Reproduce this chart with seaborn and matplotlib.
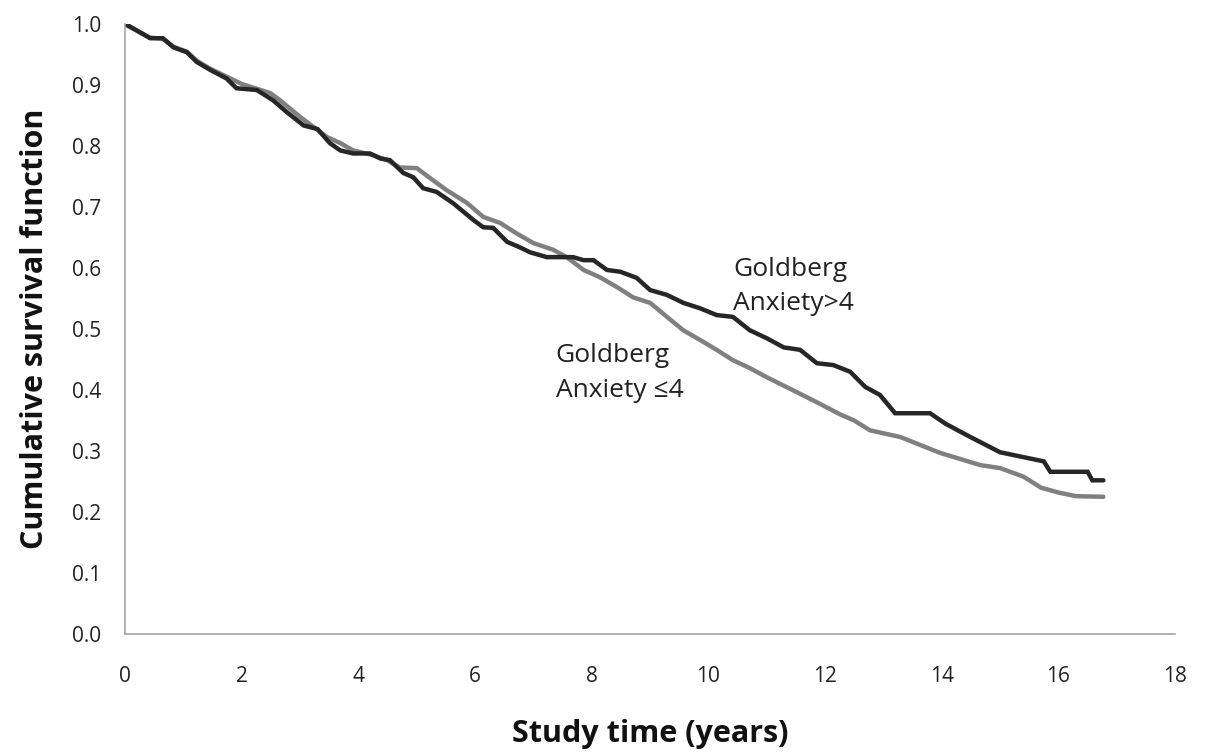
import matplotlib
matplotlib.use("Agg")
import matplotlib.pyplot as plt
import seaborn as sns
import pandas as pd

# Goldberg Anxiety > 4 (black)
t_high = [0.0, 0.05, 0.43, 0.65, 0.83, 1.06, 1.23, 1.46, 1.74, 1.91, 2.26, 2.54, 2.77, 3.06,
          3.3, 3.51, 3.69, 3.91, 4.2, 4.37, 4.54, 4.77, 4.94, 5.11, 5.34, 5.63, 5.97, 6.14,
          6.31, 6.55, 6.77, 6.94, 7.23, 7.68, 7.86, 8.03, 8.26, 8.49, 8.77, 9.0, 9.29, 9.57,
          9.86, 10.14, 10.42, 10.71, 11.0, 11.29, 11.57, 11.86, 12.14, 12.43, 12.69, 12.94,
          13.2, 13.8, 14.06, 14.49, 15.0, 15.6, 15.75, 15.86, 16.5, 16.58, 16.77]
s_high = [1.0, 0.998, 0.977, 0.977, 0.962, 0.954, 0.938, 0.925, 0.911, 0.895, 0.892, 0.875,
          0.856, 0.834, 0.828, 0.805, 0.793, 0.788, 0.788, 0.780, 0.777, 0.756, 0.749, 0.731,
          0.725, 0.706, 0.679, 0.667, 0.666, 0.643, 0.634, 0.626, 0.618, 0.618, 0.613, 0.613,
          0.597, 0.594, 0.584, 0.564, 0.556, 0.543, 0.534, 0.523, 0.520, 0.498, 0.485, 0.470,
          0.466, 0.444, 0.441, 0.430, 0.405, 0.392, 0.362, 0.362, 0.345, 0.323, 0.298, 0.286,
          0.283, 0.266, 0.266, 0.252, 0.252]

# Goldberg Anxiety <= 4 (grey)
t_low = [0.0, 0.05, 0.43, 0.65, 0.83, 1.06, 1.23, 1.46, 1.74, 2.0, 2.49, 2.66, 3.0, 3.46,
         3.69, 3.91, 4.26, 4.49, 4.71, 5.0, 5.28, 5.51, 5.86, 6.14, 6.43, 6.71, 7.0, 7.34,
         7.57, 7.86, 8.14, 8.43, 8.71, 9.0, 9.29, 9.57, 9.86, 10.14, 10.42, 10.71, 11.0,
         11.4, 11.9, 12.26, 12.5, 12.77, 13.29, 13.97, 14.66, 15.0, 15.4, 15.7, 16.0, 16.3,
         16.77]
s_low = [1.0, 0.997, 0.978, 0.976, 0.963, 0.955, 0.940, 0.927, 0.914, 0.902, 0.887, 0.875,
         0.848, 0.815, 0.805, 0.793, 0.785, 0.777, 0.765, 0.764, 0.744, 0.728, 0.707, 0.684,
         0.674, 0.657, 0.641, 0.630, 0.618, 0.597, 0.585, 0.569, 0.552, 0.543, 0.520, 0.498,
         0.482, 0.466, 0.449, 0.436, 0.421, 0.402, 0.378, 0.360, 0.350, 0.334, 0.323, 0.297,
         0.277, 0.272, 0.258, 0.240, 0.232, 0.226, 0.225]

x_ticks = [0, 2, 4, 6, 8, 10, 12, 14, 16, 18]
y_ticks = [0.0, 0.1, 0.2, 0.3, 0.4, 0.5, 0.6, 0.7, 0.8, 0.9, 1.0]

sns.set_theme(style="white")
plt.rcParams['font.family'] = ['Open Sans', 'DejaVu Sans']

fig = plt.figure(figsize=(12.07, 7.56), dpi=100)
ax = fig.add_axes([0.1036, 0.1614, 0.87, 0.8066])

df_low = pd.DataFrame({"t": t_low, "s": s_low})
df_high = pd.DataFrame({"t": t_high, "s": s_high})
sns.lineplot(data=df_low, x="t", y="s", sort=False, estimator=None, ax=ax,
             color="#808080", linewidth=3.2, solid_joinstyle="miter")
sns.lineplot(data=df_high, x="t", y="s", sort=False, estimator=None, ax=ax,
             color="#262626", linewidth=3.2, solid_joinstyle="miter")

ax.set_xlim(0, 18)
ax.set_ylim(0, 1.0)
ax.set_xticks(x_ticks)
ax.set_yticks(y_ticks)
ax.set_xticklabels([str(v) for v in x_ticks])
ax.set_yticklabels([f"{v:.1f}" for v in y_ticks])

for side in ["top", "right"]:
    ax.spines[side].set_visible(False)
for side in ["left", "bottom"]:
    ax.spines[side].set_color("#a6a6a6")
    ax.spines[side].set_linewidth(1.2)

ax.tick_params(axis="both", which="major", direction="out", length=6, width=1.2,
               color="#a6a6a6", labelsize=15, labelcolor="#222222")
ax.tick_params(axis="x", pad=17)
ax.tick_params(axis="y", pad=11)

ax.set_xlabel("Study time (years)", fontsize=22, fontweight="bold", color="#111111")
ax.xaxis.set_label_coords(0.5, -0.14)
ax.set_ylabel("Cumulative survival function", fontsize=22, fontweight="bold", color="#111111", labelpad=16)

ax.text(10.42, 0.570, "Goldberg\nAnxiety>4", fontsize=19, color="#222222",
        ha="left", va="center", linespacing=1.5)
ax.text(7.38, 0.428, "Goldberg\nAnxiety \u22644", fontsize=19, color="#222222",
        ha="left", va="center", linespacing=1.5)

fig.savefig("out.png", dpi=100)
